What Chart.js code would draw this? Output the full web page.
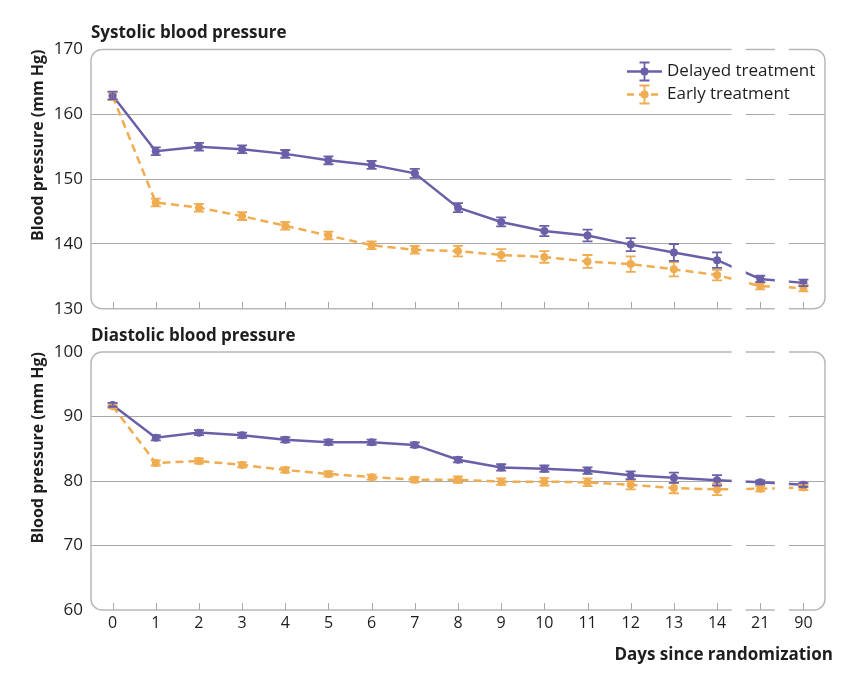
<!DOCTYPE html>
<html><head><meta charset="utf-8">
<script src="https://cdn.jsdelivr.net/npm/chart.js@4/dist/chart.umd.min.js"></script>
<style>
html,body{margin:0;padding:0;background:#fff;}
#wrap{position:relative;width:868px;height:677px;overflow:hidden;}
#c1{position:absolute;left:0;top:0;}
#c2{position:absolute;left:0;top:322px;}
</style></head><body>
<div id="wrap">
<canvas id="c1" width="868" height="327"></canvas>
<canvas id="c2" width="868" height="355"></canvas>
</div>
<script>
// ---- data ----
const days = ['0','1','2','3','4','5','6','7','8','9','10','11','12','13','14','21','90'];
const seriesNames = ['Delayed treatment', 'Early treatment'];
const sysDelayed    = [162.9,154.3,155.0,154.6,153.9,152.9,152.2,150.9,145.6,143.4,142.0,141.3,139.9,138.7,137.5,134.6,134.0];
const sysDelayedErr = [0.6,0.6,0.6,0.6,0.6,0.6,0.6,0.7,0.7,0.7,0.8,0.9,1.0,1.3,1.2,0.5,0.5];
const sysEarly      = [162.8,146.4,145.6,144.3,142.8,141.3,139.8,139.1,138.9,138.3,138.0,137.3,136.9,136.1,135.2,133.5,133.2];
const sysEarlyErr   = [0.6,0.6,0.6,0.6,0.6,0.6,0.6,0.6,0.8,0.9,0.9,1.0,1.2,1.1,0.8,0.5,0.5];
const diaDelayed    = [91.8,86.7,87.5,87.1,86.4,86.0,86.0,85.6,83.3,82.1,81.9,81.6,80.9,80.5,80.1,79.8,79.4];
const diaDelayedErr = [0.3,0.4,0.4,0.4,0.4,0.4,0.4,0.4,0.4,0.5,0.5,0.5,0.6,0.8,0.8,0.3,0.3];
const diaEarly      = [91.6,82.8,83.1,82.5,81.7,81.1,80.6,80.2,80.2,79.9,79.9,79.8,79.4,78.9,78.7,78.8,79.0];
const diaEarlyErr   = [0.3,0.4,0.4,0.4,0.4,0.4,0.4,0.4,0.5,0.5,0.6,0.6,0.7,0.8,0.9,0.4,0.4];
const sysTicks = {min:130, max:170, step:10};
const diaTicks = {min:60, max:100, step:10};
const breakAfter = [14, 15]; // axis breaks between these category indices and the next

const PURPLE = '#6a60a8', ORANGE = '#f0ac50';
const FONT = "'Open Sans', 'DejaVu Sans', sans-serif";
const TEXT = '#1e1e1e';

function datasets(d, dErr, e, eErr){
  return [
    {label: seriesNames[0], data: d, errors: dErr, borderColor: PURPLE, backgroundColor: PURPLE,
     borderWidth: 2.5, pointRadius: 4, pointBorderWidth: 0, pointBackgroundColor: PURPLE, tension: 0},
    {label: seriesNames[1], data: e, errors: eErr, borderColor: ORANGE, backgroundColor: ORANGE,
     borderWidth: 2.5, borderDash: [8,5], pointRadius: 4, pointBorderWidth: 0, pointBackgroundColor: ORANGE, tension: 0}
  ];
}

function roundRect(ctx, x, y, w, h, r){
  ctx.beginPath();
  ctx.moveTo(x+r, y); ctx.lineTo(x+w-r, y); ctx.arcTo(x+w, y, x+w, y+r, r);
  ctx.lineTo(x+w, y+h-r); ctx.arcTo(x+w, y+h, x+w-r, y+h, r);
  ctx.lineTo(x+r, y+h); ctx.arcTo(x, y+h, x, y+h-r, r);
  ctx.lineTo(x, y+r); ctx.arcTo(x, y, x+r, y, r); ctx.closePath();
}

function decor(showLegend){
  return {
    id: 'decor',
    afterDatasetsDraw(chart){
      const ctx = chart.ctx, xs = chart.scales.x, ys = chart.scales.y, a = chart.chartArea;
      // error bars
      const dss = chart.data.datasets;
      for (let i = dss.length-1; i >= 0; i--){
        const ds = dss[i];
        ctx.save(); ctx.strokeStyle = ds.borderColor; ctx.lineWidth = 1.8;
        ds.data.forEach((v, j) => {
          const px = xs.getPixelForValue(j);
          const p1 = ys.getPixelForValue(v + ds.errors[j]);
          const p2 = ys.getPixelForValue(v - ds.errors[j]);
          ctx.beginPath();
          ctx.moveTo(px, p1); ctx.lineTo(px, p2);
          ctx.moveTo(px-5, p1); ctx.lineTo(px+5, p1);
          ctx.moveTo(px-5, p2); ctx.lineTo(px+5, p2);
          ctx.stroke();
        });
        ctx.restore();
      }
      // frame
      ctx.save();
      ctx.strokeStyle = '#b8b8b8'; ctx.lineWidth = 1.5;
      roundRect(ctx, a.left, a.top, a.right-a.left, a.bottom-a.top, 11);
      ctx.stroke();
      // inner tick marks
      ctx.strokeStyle = '#a8a8a8'; ctx.lineWidth = 1;
      days.forEach((d, j) => {
        const px = Math.round(xs.getPixelForValue(j)) + 0.5;
        ctx.beginPath(); ctx.moveTo(px, a.bottom - 7); ctx.lineTo(px, a.bottom); ctx.stroke();
      });
      // axis breaks
      ctx.fillStyle = '#ffffff';
      breakAfter.forEach(k => {
        const cx = (xs.getPixelForValue(k) + xs.getPixelForValue(k+1)) / 2;
        ctx.fillRect(cx - 7, a.top - 4, 14, a.bottom - a.top + 8);
      });
      ctx.restore();
      // legend
      if (showLegend){
        const lx = a.right - 198, tx = a.right - 158;
        const ys2 = [a.top + 22, a.top + 45];
        dss.forEach((ds, i) => {
          const yy = ys2[i];
          ctx.save();
          ctx.strokeStyle = ds.borderColor; ctx.fillStyle = ds.borderColor; ctx.lineWidth = 2.5;
          if (ds.borderDash) ctx.setLineDash([7,5]);
          ctx.beginPath(); ctx.moveTo(lx, yy); ctx.lineTo(lx + 35, yy); ctx.stroke();
          ctx.setLineDash([]); ctx.lineWidth = 1.8;
          const cx = lx + 17.5;
          ctx.beginPath();
          ctx.moveTo(cx, yy-9); ctx.lineTo(cx, yy+9);
          ctx.moveTo(cx-5, yy-9); ctx.lineTo(cx+5, yy-9);
          ctx.moveTo(cx-5, yy+9); ctx.lineTo(cx+5, yy+9);
          ctx.stroke();
          ctx.beginPath(); ctx.arc(cx, yy, 4, 0, Math.PI*2); ctx.fill();
          ctx.fillStyle = TEXT; ctx.font = "17px " + FONT; ctx.textBaseline = 'middle'; ctx.textAlign = 'left';
          ctx.fillText(ds.label, tx, yy);
          ctx.restore();
        });
      }
    }
  };
}

function yScale(t){
  return {
    min: t.min, max: t.max,
    ticks: {stepSize: t.step, padding: 8, color: TEXT, font: {family: FONT, size: 17}},
    grid: {drawTicks: false, lineWidth: 1,
      color: c => (c.tick && (c.tick.value === t.min || c.tick.value === t.max)) ? 'rgba(0,0,0,0)' : '#a9a9a9'},
    border: {display: false},
    title: {display: true, text: 'Blood pressure (mm Hg)', align: 'end', color: TEXT,
      font: {family: FONT, size: 16, weight: 'bold'}, padding: {top: 29, bottom: 0}},
    afterFit(s){ s.width = 91; }
  };
}

Chart.defaults.font.family = FONT;

new Chart(document.getElementById('c1'), {
  type: 'line',
  data: {labels: days, datasets: datasets(sysDelayed, sysDelayedErr, sysEarly, sysEarlyErr)},
  options: {
    responsive: false, animation: false, devicePixelRatio: 1,
    layout: {padding: {left: 0, right: 43, top: 0, bottom: 14.5}},
    plugins: {
      legend: {display: false}, tooltip: {enabled: false},
      title: {display: true, text: 'Systolic blood pressure', align: 'start', fullSize: false, color: TEXT,
        font: {family: FONT, size: 17, weight: 'bold'}, padding: {top: 22.8, bottom: 6.3}}
    },
    scales: {
      x: {type: 'category', offset: true, ticks: {display: false}, grid: {display: false, drawTicks: false}, border: {display: false}},
      y: yScale(sysTicks)
    }
  },
  plugins: [decor(true)]
});

new Chart(document.getElementById('c2'), {
  type: 'line',
  data: {labels: days, datasets: datasets(diaDelayed, diaDelayedErr, diaEarly, diaEarlyErr)},
  options: {
    responsive: false, animation: false, devicePixelRatio: 1,
    layout: {padding: {left: 0, right: 35, top: 0, bottom: 0}},
    plugins: {
      legend: {display: false}, tooltip: {enabled: false},
      title: {display: true, text: 'Diastolic blood pressure', align: 'start', fullSize: false, color: TEXT,
        font: {family: FONT, size: 17, weight: 'bold'}, padding: {top: 3.8, bottom: 5.8}},
      subtitle: {display: true, position: 'bottom', align: 'end', text: 'Days since randomization', color: TEXT,
        font: {family: FONT, size: 17, weight: 'bold'}, padding: {top: 7.4, bottom: 12}}
    },
    scales: {
      x: {type: 'category', offset: true,
        ticks: {display: true, padding: 4, color: TEXT, font: {family: FONT, size: 16}, maxRotation: 0, autoSkip: false},
        grid: {display: false, drawTicks: false}, border: {display: false}},
      y: yScale(diaTicks),
      y2: {type: 'linear', position: 'right', display: true, ticks: {display: false},
        grid: {display: false, drawTicks: false}, border: {display: false}, afterFit(s){ s.width = 8; }}
    }
  },
  plugins: [decor(false)]
});
</script>
</body></html>
